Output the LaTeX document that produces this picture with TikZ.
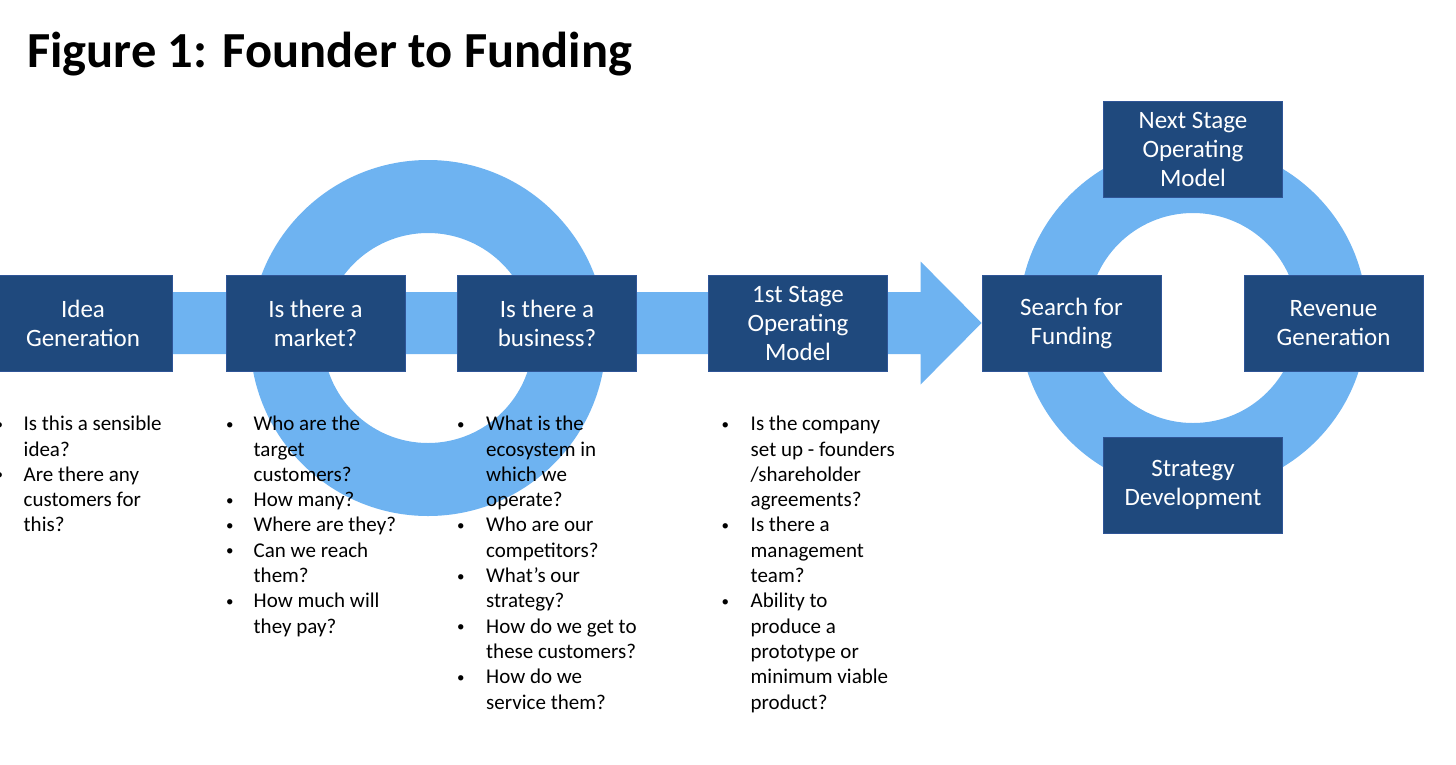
\documentclass[tikz,border=0pt]{standalone}
\usepackage{fontspec}
\setmainfont{Carlito}
\usepackage{xcolor}
\usepackage{tikz}
\usetikzlibrary{backgrounds,calc}
\definecolor{stagefill}{RGB}{31,73,125}
\definecolor{stageedge}{RGB}{47,85,151}
\definecolor{flowblue}{RGB}{110,179,241}
\newcommand{\qb}{\raisebox{1.5pt}{\fontsize{15}{15}\selectfont\textbullet}}
\tikzset{
  stage/.style={draw=stageedge,line width=0.8pt,fill=stagefill,text=white,
                align=center,inner sep=0pt,
                minimum width=179pt,minimum height=96pt,
                font=\fontsize{25}{29}\selectfont},
  qlist/.style={anchor=north west,inner sep=0pt,align=left,
                font=\fontsize{21}{25.3}\selectfont},
  band/.style={fill=flowblue},
  ring/.style={fill=flowblue,even odd rule},
}

\begin{document}
\begin{tikzpicture}[x=1pt,y=-1pt]
\useasboundingbox (0,0) rectangle (1456,764);

%% ---------- title ----------
\node[anchor=base west,inner sep=0pt,font=\fontsize{50.5}{60}\selectfont\bfseries]
  (title) at (27,67) {Figure 1: Founder to Funding};

%% ---------- main stages ----------
\node[stage] (idea)  at (83,323)    {Idea\\Generation};
\node[stage] (mkt)   at (315.5,323) {Is there a\\market?};
\node[stage] (biz)   at (547,323)   {Is there a\\business?};
\node[stage] (first) at (798,323)   {1st Stage\\Operating\\Model};

%% ---------- funding cycle ----------
\node[stage] (fund)  at (1071.5,323) {Search for\\Funding};
\node[stage] (rev)   at (1333.5,323) {Revenue\\Generation};
\node[stage] (next)  at (1193,149)   {Next Stage\\Operating\\Model};
\node[stage] (strat) at (1193,485)   {Strategy\\Development};

\coordinate (hubA) at (428,338);
\coordinate (hubB) at (1193,318);

%% band, block arrow and rings behind the boxes
\begin{scope}[on background layer]
  \fill[ring] (hubA) circle (178pt) (hubA) circle (105pt);
  \fill[ring] (hubB) circle (174pt) (hubB) circle (105pt);
  \fill[band] ([yshift=31pt]idea.center)
    -- ([xshift=-61pt,yshift=31pt]fund.west)
    -- ([xshift=-61pt,yshift=61.5pt]fund.west)
    -- (fund.west)
    -- ([xshift=-61pt,yshift=-61.5pt]fund.west)
    -- ([xshift=-61pt,yshift=-31pt]fund.west)
    -- ([yshift=-31pt]idea.center) -- cycle;
\end{scope}

%% ---------- questions under each stage ----------
\node[qlist] (qidea) at (-4.5,412.8) {\begin{tabular}{@{}p{28pt}@{}l@{}}
  \qb & Is this a sensible\\
      & idea?\\
  \qb & Are there any\\
      & customers for\\
      & this?
\end{tabular}};

\node[qlist] (qmkt) at (226,412.8) {\begin{tabular}{@{}p{27.5pt}@{}l@{}}
  \qb & Who are the\\
      & target\\
      & customers?\\
  \qb & How many?\\
  \qb & Where are they?\\
  \qb & Can we reach\\
      & them?\\
  \qb & How much will\\
      & they pay?
\end{tabular}};

\node[qlist] (qbiz) at (457,412.8) {\begin{tabular}{@{}p{29pt}@{}l@{}}
  \qb & What is the\\
      & ecosystem in\\
      & which we\\
      & operate?\\
  \qb & Who are our\\
      & competitors?\\
  \qb & What’s our\\
      & strategy?\\
  \qb & How do we get to\\
      & these customers?\\
  \qb & How do we\\
      & service them?
\end{tabular}};

\node[qlist] (qfirst) at (721.5,412.8) {\begin{tabular}{@{}p{29pt}@{}l@{}}
  \qb & Is the company\\
      & set up - founders\\
      & /shareholder\\
      & agreements?\\
  \qb & Is there a\\
      & management\\
      & team?\\
  \qb & Ability to\\
      & produce a\\
      & prototype or\\
      & minimum viable\\
      & product?
\end{tabular}};
\end{tikzpicture}
\end{document}
